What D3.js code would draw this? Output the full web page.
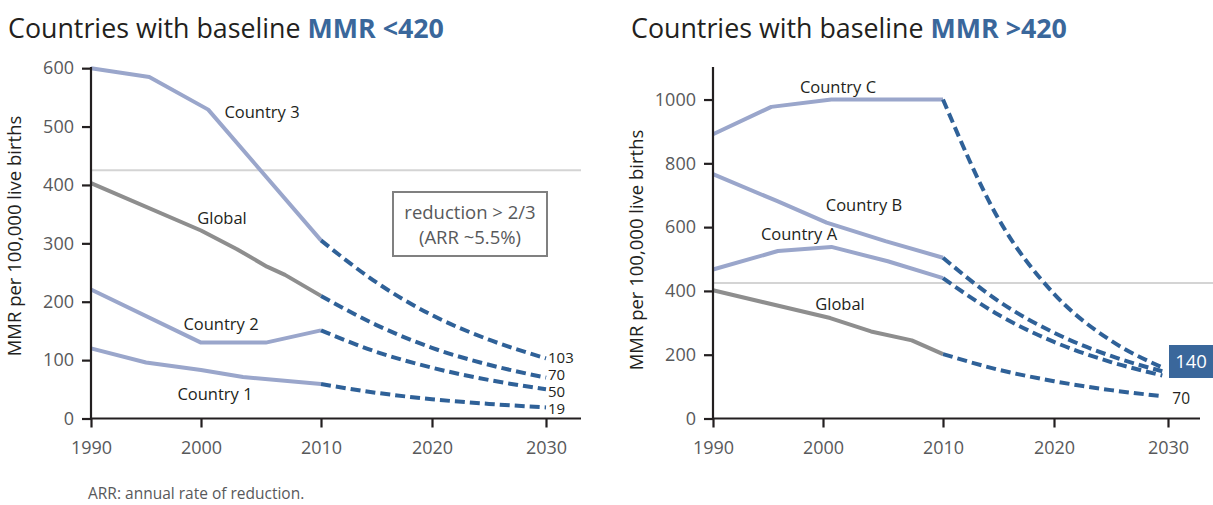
<!DOCTYPE html>
<html lang="en">
<head>
<meta charset="utf-8">
<title>MMR projections</title>
<script src="https://cdnjs.cloudflare.com/ajax/libs/d3/7.8.5/d3.min.js"></script>
<style>
  body { margin: 0; background: #fff; }
  svg { font-family: "Open Sans", "Noto Sans", sans-serif; }
</style>
</head>
<body>
<script>
// ---- data ----
var xTicks = [1990, 2000, 2010, 2020, 2030];
var leftYTicks = [0, 100, 200, 300, 400, 500, 600];
var rightYTicks = [0, 200, 400, 600, 800, 1000];
var threshold = 425;

// left panel (baseline MMR < 420)
var country3 = [[1990, 600], [1995.3, 585], [2000.6, 529], [2010, 305]];
var country3Proj = [[2010, 305], [2015, 233], [2020, 177], [2025, 135], [2030, 103]];
var globalL = [[1990, 403], [2000, 322], [2003, 290], [2005.5, 260], [2007, 246], [2010, 210]];
var globalLProj = [[2010, 210], [2015, 160], [2020, 121], [2025, 92], [2030, 70]];
var country2 = [[1990, 221], [2000, 130], [2005.4, 130], [2010, 151]];
var country2Proj = [[2010, 151], [2015, 114], [2020, 87], [2025, 66], [2030, 50]];
var country1 = [[1990, 120], [1995, 96], [2000, 83], [2003.5, 71], [2010, 59]];
var country1Proj = [[2010, 59], [2015, 44], [2020, 33], [2025, 25], [2030, 19]];

// right panel (baseline MMR > 420)
var countryC = [[1990, 891], [1995.3, 977], [2000.7, 1000], [2010, 1000]];
var countryCProj = [[2010, 1000], [2015, 626], [2020, 391], [2025, 244], [2029.5, 160]];
var countryB = [[1990, 766], [1995.8, 682], [2000.3, 614], [2005.2, 556], [2010, 504]];
var countryBProj = [[2010, 504], [2015, 368], [2020, 269], [2025, 196], [2029.5, 148]];
var countryA = [[1990, 467], [1995.9, 525], [2000.7, 538], [2005.4, 493], [2010, 440]];
var countryAProj = [[2010, 440], [2015, 325], [2020, 240], [2025, 177], [2029.5, 135]];
var globalR = [[1990, 402], [2000.6, 315], [2004, 273], [2007.4, 245], [2010, 202]];
var globalRProj = [[2010, 202], [2015, 153], [2020, 117], [2025, 89], [2029.5, 70]];

var colLight = "#9aa6cb", colGlobal = "#8e8e8e", colProj = "#2f6198";
var colText = "#231f20", colTick = "#58595b", colBlue = "#3a679b";

var W = 1213, H = 505;
var svg = d3.select("body").append("svg").attr("width", W).attr("height", H);

function panel(o) {
  var g = svg.append("g").attr("transform", "translate(" + o.left + ",0)");
  // hand-spaced decades as in the original figure
  var x = d3.scaleLinear().domain(xTicks).range([0, 110, 230, 341, 455]);
  var y = d3.scaleLinear().domain([0, o.yMax]).range([418.5, 67]);

  // title
  var t = svg.append("text").attr("x", o.titleX).attr("y", 38)
    .attr("font-size", 26.8).attr("fill", colText);
  t.append("tspan").text("Countries with baseline ");
  t.append("tspan").attr("font-weight", "bold").attr("fill", colBlue).text(o.titleBold);

  // threshold line
  g.append("line").attr("x1", 0).attr("x2", o.refEnd)
    .attr("y1", y(threshold)).attr("y2", y(threshold))
    .attr("stroke", "#d4d4d4").attr("stroke-width", 2);

  var line = d3.line().x(function(d) { return x(d[0]); }).y(function(d) { return y(d[1]); });
  var curve = d3.line().curve(d3.curveMonotoneX)
    .x(function(d) { return x(d[0]); }).y(function(d) { return y(d[1]); });

  o.series.forEach(function(s) {
    g.append("path").attr("d", line(s.data)).attr("fill", "none")
      .attr("stroke", s.color).attr("stroke-width", 4).attr("stroke-linejoin", "round");
    g.append("path").attr("d", curve(s.proj)).attr("fill", "none")
      .attr("stroke", colProj).attr("stroke-width", 4).attr("stroke-dasharray", "10,5");
    g.append("text").attr("x", s.lx).attr("y", s.ly).attr("text-anchor", "middle")
      .attr("font-size", 16.5).attr("fill", colText).text(s.name);
  });

  // axes
  var ya = g.append("g").call(d3.axisLeft(y).tickValues(o.yTicks).tickFormat(d3.format("d"))
    .tickSize(9).tickPadding(8));
  ya.select(".domain").attr("d", "M0," + y(0) + "V" + 67);
  var xa = g.append("g").attr("transform", "translate(0," + y(0) + ")")
    .call(d3.axisBottom(x).tickValues(xTicks).tickFormat(d3.format("d")).tickSize(9).tickPadding(14));
  xa.select(".domain").attr("d", "M0,0H" + o.xEnd);
  [ya, xa].forEach(function(a) {
    a.selectAll(".domain, line").attr("stroke", colText).attr("stroke-width", 2.2);
    a.selectAll("text").attr("font-size", 18).attr("fill", colTick)
      .attr("font-family", "'Open Sans', sans-serif");
  });

  // y label
  g.append("text").attr("transform", "translate(" + o.yLabelX + "," + o.yLabelY + ") rotate(-90)")
    .attr("text-anchor", "middle").attr("font-size", 18.5).attr("fill", colText)
    .text("MMR per 100,000 live births");
  return { g: g, x: x, y: y };
}

var L = panel({
  left: 91, titleX: 8, titleBold: "MMR <420", yMax: 602, yTicks: leftYTicks,
  refEnd: 490, xEnd: 490, yLabelX: -70, yLabelY: 236,
  series: [
    { name: "Country 3", data: country3, proj: country3Proj, color: colLight, lx: 171, ly: 118 },
    { name: "Global", data: globalL, proj: globalLProj, color: colGlobal, lx: 131, ly: 224 },
    { name: "Country 2", data: country2, proj: country2Proj, color: colLight, lx: 130, ly: 330 },
    { name: "Country 1", data: country1, proj: country1Proj, color: colLight, lx: 124, ly: 400 }
  ]
});

// end values, left panel (tightly stacked as in the original)
var endLabels = [103, 70, 50, 19];
var endY = [358, 375, 392, 409];
endLabels.forEach(function(v, i) {
  L.g.append("text").attr("x", L.x(2030) + 2).attr("y", endY[i]).attr("dy", "0.35em")
    .attr("font-size", 15).attr("fill", colText).text(v);
});

// note box
var box = L.g.append("g").attr("transform", "translate(302,192)");
box.append("rect").attr("width", 154).attr("height", 64).attr("fill", "#fff")
  .attr("stroke", "#808080").attr("stroke-width", 2);
box.append("text").attr("x", 77).attr("y", 27).attr("text-anchor", "middle")
  .attr("font-size", 18.5).attr("fill", colTick).text("reduction > 2/3");
box.append("text").attr("x", 77).attr("y", 52).attr("text-anchor", "middle")
  .attr("font-size", 18.5).attr("fill", colTick).text("(ARR ~5.5%)");

var R = panel({
  left: 713, titleX: 631, titleBold: "MMR >420", yMax: 1102, yTicks: rightYTicks,
  refEnd: 500, xEnd: 487, yLabelX: -70, yLabelY: 250,
  series: [
    { name: "Country C", data: countryC, proj: countryCProj, color: colLight, lx: 125, ly: 93 },
    { name: "Country B", data: countryB, proj: countryBProj, color: colLight, lx: 151, ly: 211 },
    { name: "Country A", data: countryA, proj: countryAProj, color: colLight, lx: 86, ly: 240 },
    { name: "Global", data: globalR, proj: globalRProj, color: colGlobal, lx: 127, ly: 310 }
  ]
});

// right panel end labels
var hl = R.g.append("g").attr("transform", "translate(456,345)");
hl.append("rect").attr("width", 50).attr("height", 33).attr("fill", colBlue);
hl.append("text").attr("x", 22).attr("y", 17).attr("dy", "0.35em").attr("text-anchor", "middle")
  .attr("font-size", 18.5).attr("fill", "#fff").text("140");
R.g.append("text").attr("x", R.x(2029.5) + 10).attr("y", 399).attr("dy", "0.35em")
  .attr("font-size", 15.5).attr("fill", colText).text("70");

// footnote
svg.append("text").attr("x", 88).attr("y", 499).attr("font-size", 15.5).attr("fill", colTick)
  .text("ARR: annual rate of reduction.");
</script>
</body>
</html>
